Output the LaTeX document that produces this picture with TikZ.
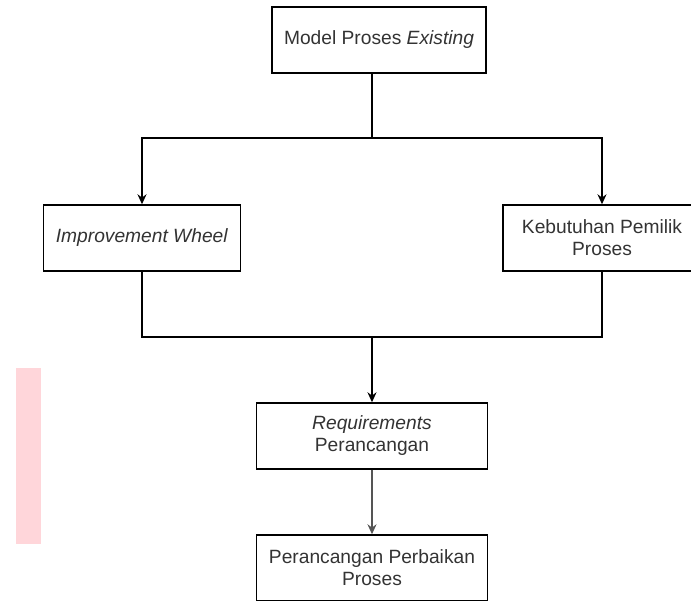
\documentclass[tikz,border=0pt]{standalone}
\usepackage{fontspec}
\setmainfont{Liberation Sans}
\usepackage{tikz}
\usetikzlibrary{arrows.meta}
\definecolor{txtgray}{HTML}{333333}
\definecolor{linkgray}{HTML}{555555}
\definecolor{markpink}{HTML}{FFD6DA}

\begin{document}
\begin{tikzpicture}[
    x=1pt, y=-1pt,
    block/.style={draw, line width=1.4pt, inner sep=0pt, align=center,
                  text=txtgray, font=\fontsize{19.2}{22}\selectfont},
    link/.style={line width=1.4pt},
    >={Stealth[length=10pt,width=9pt]},
]
  \useasboundingbox (0,0) rectangle (691,601);

  % side mark
  \fill[markpink] (16,368) rectangle (41,544);

  % boxes
  \node[block,minimum width=214pt,minimum height=66pt] (model) at (379,40)
    {Model Proses \textit{Existing}};
  \node[block,minimum width=197pt,minimum height=66pt] (wheel) at (142,238)
    {\textit{Improvement Wheel}};
  \node[block,minimum width=198pt,minimum height=66pt] (owner) at (602,238)
    {Kebutuhan Pemilik\\Proses};
  \node[block,minimum width=231pt,minimum height=66pt] (req) at (372,436)
    {\textit{Requirements}\\Perancangan};
  \node[block,minimum width=231pt,minimum height=66pt] (design) at (372,568)
    {Perancangan Perbaikan\\Proses};

  % junctions
  \coordinate (split) at (372,138);
  \coordinate (merge) at (372,337);

  % connectors
  \draw[link] (model.south -| split) -- (split);
  \draw[link,->] (split) -| (wheel.north);
  \draw[link,->] (split) -| (owner.north);
  \draw[link] (wheel.south) |- (merge);
  \draw[link] (owner.south) |- (merge);
  \draw[link,->] (merge) -- (req.north);
  \draw[link,->,linkgray] (req.south) -- (design.north);
\end{tikzpicture}
\end{document}
